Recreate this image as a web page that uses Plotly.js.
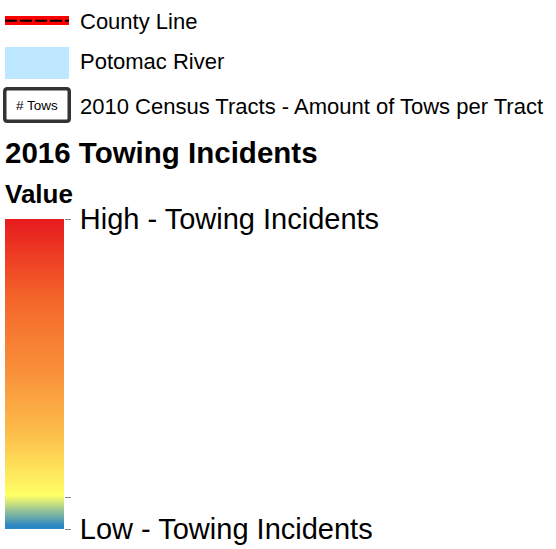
<!DOCTYPE html>
<html>
<head>
<meta charset="utf-8">
<script src="https://cdn.plot.ly/plotly-3.0.1.min.js"></script>
<style>html,body{margin:0;padding:0;background:#fff;}#chart{width:556px;height:549px;}</style>
</head>
<body>
<div id="chart"></div>
<script>
// ---- data ----
const legendItems = ['County Line', 'Potomac River', '2010 Census Tracts - Amount of Tows per Tract'];
const tractBadge = '# Tows';
const chartTitle = '2016 Towing Incidents';
const rampTitle = 'Value';
const rampLevels = [0, 2.5, 5, 7.5, 10, 12.5, 15, 17.5, 20, 22.5, 25, 27.5, 30, 32.5, 35, 37.5, 40,
  42.5, 45, 47.5, 50, 52.5, 55, 57.5, 60, 62.5, 65, 67.5, 70, 72.5, 75, 77.5, 80, 82.5, 85, 87.5,
  90, 92.5, 95, 97.5, 100];
const rampTickValues = [101.25, 9.1, -1.25];
const rampTickLabels = ['High - Towing Incidents', '', 'Low - Towing Incidents'];
const rampColors = [[0, '#2c87c5'], [0.1, '#ffff66'], [0.3, '#fdbf4b'], [0.5, '#f9923a'], [0.75, '#f4662a'], [1, '#e81e1e']];

// ---- chart ----
const W = 556, H = 549;
const FONT = 'Liberation Sans, Arial, sans-serif';
const barTop = 219, barBottom = 529;

const trace = {
  type: 'heatmap',
  x: [0],
  y: rampLevels,
  z: rampLevels.map(v => [v]),
  colorscale: rampColors,
  zmin: 0, zmax: 100,
  zsmooth: 'best',
  showscale: false,
  hoverinfo: 'skip',
  xaxis: 'x2', yaxis: 'y2'
};

const ann = (text, x, y, size, opts) => Object.assign({
  text: text, x: x, y: y, xref: 'x', yref: 'y', xanchor: 'left', yanchor: 'middle',
  showarrow: false, font: {family: FONT, size: size, color: '#000'}, borderpad: 0
}, opts || {});

const layout = {
  width: W, height: H,
  margin: {l: 0, r: 0, t: 0, b: 0},
  paper_bgcolor: '#fff', plot_bgcolor: 'rgba(0,0,0,0)',
  showlegend: false,
  xaxis: {range: [0, W], domain: [0, 1], visible: false, fixedrange: true},
  yaxis: {range: [H, 0], domain: [0, 1], visible: false, fixedrange: true},
  xaxis2: {domain: [5 / W, 64 / W], anchor: 'y2', visible: false, range: [-0.5, 0.5]},
  yaxis2: {
    domain: [1 - barBottom / H, 1 - barTop / H], anchor: 'x2', side: 'right',
    range: [-1.25, 101.25], showgrid: false, zeroline: false, showline: false,
    ticks: 'outside', ticklen: 6, tickwidth: 1, tickcolor: '#888',
    tickvals: rampTickValues, ticktext: rampTickLabels,
    ticklabelstandoff: 3, automargin: false,
    tickfont: {family: FONT, size: 29, color: '#000'}
  },
  shapes: [
    {type: 'rect', xref: 'x', yref: 'y', x0: 5, x1: 69, y0: 16, y1: 25, fillcolor: '#ff0000', line: {width: 0}},
    {type: 'line', xref: 'x', yref: 'y', x0: 5, x1: 69, y0: 20.8, y1: 20.8, line: {color: '#000', width: 2, dash: '12px,3px'}},
    {type: 'rect', xref: 'x', yref: 'y', x0: 5, x1: 69, y0: 47, y1: 79, fillcolor: '#bee8ff', line: {width: 0}},
    {type: 'path', xref: 'x', yref: 'y',
     path: 'M 7.5 88.75 L 66.5 88.75 Q 69.25 88.75 69.25 91.5 L 69.25 118.5 Q 69.25 121.25 66.5 121.25 L 7.5 121.25 Q 4.75 121.25 4.75 118.5 L 4.75 91.5 Q 4.75 88.75 7.5 88.75 Z',
     fillcolor: '#fff', line: {color: '#333', width: 3.5}}
  ],
  annotations: [
    ann(legendItems[0], 79, 21, 22),
    ann(legendItems[1], 79, 61, 22),
    ann(legendItems[2], 79, 106, 22),
    ann(tractBadge, 37, 105.5, 13.5, {xanchor: 'center'}),
    ann('<b>' + chartTitle + '</b>', 4, 152, 29.5),
    ann('<b>' + rampTitle + '</b>', 4, 194, 26)
  ]
};

Plotly.newPlot('chart', [trace], layout, {displayModeBar: false, staticPlot: true});
</script>
</body>
</html>
